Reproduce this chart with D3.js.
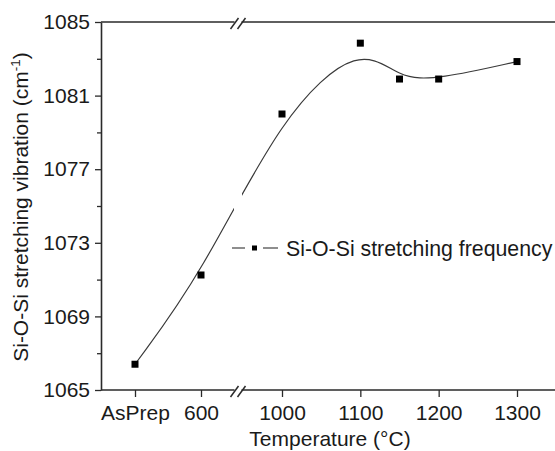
<!DOCTYPE html>
<html><head><meta charset="utf-8">
<script src="https://cdn.jsdelivr.net/npm/d3@7"></script>
<style>body{margin:0;background:#fff} text{font-family:"Liberation Sans",Arial,sans-serif;fill:#1a1a1a}</style>
</head><body><svg id="c" width="555" height="451"></svg>
<script>
// ---- data ----
const categories = ["AsPrep","600","1000","1100","1150","1200","1300"];
const tempPositions = [500, 600, 1000, 1100, 1150, 1200, 1300]; // AsPrep placed left of 600 on broken axis
const wavenumbers = [1066.4, 1071.25, 1080.0, 1083.85, 1081.9, 1081.9, 1082.85];
const xTickValues = [500, 600, 1000, 1100, 1200, 1300];
const xTickLabels = ["AsPrep","600","1000","1100","1200","1300"];
const yTicks = [1065,1069,1073,1077,1081,1085];
const yMinorTicks = [1067,1071,1075,1079,1083];
const legendLabel = "Si-O-Si stretching frequency";
const xTitle = "Temperature (°C)";

// ---- layout ----
const W = 555, H = 451;
const mLeft = 101, mTop = 22, mBottom = 390, mRight = 555;
const breakX = 238;
const svg = d3.select("#c");
const ink = "#2a2a2a";

const x = d3.scaleLinear().domain([500, 600, 1000, 1300]).range([135, 201, 282, 517]);
const y = d3.scaleLinear().domain([1065, 1085]).range([mBottom, mTop]);

const data = categories.map((c, i) => ({c, t: tempPositions[i], v: wavenumbers[i]}));

// clip to create gap in curve at break
const defs = svg.append("defs");
const cp = defs.append("clipPath").attr("id", "brk");
cp.append("rect").attr("x", 0).attr("y", 0).attr("width", breakX - 4).attr("height", H);
cp.append("rect").attr("x", breakX + 4).attr("y", 0).attr("width", W).attr("height", H);

// curve
const line = d3.line().x(d => x(d.t)).y(d => y(d.v)).curve(d3.curveBasis);
svg.append("path").datum(data).attr("d", line)
  .attr("fill", "none").attr("stroke", "#3a3a3a").attr("stroke-width", 1.2)
  .attr("clip-path", "url(#brk)");

// markers
svg.selectAll("rect.pt").data(data).join("rect").attr("class", "pt")
  .attr("x", d => x(d.t) - 3.5).attr("y", d => y(d.v) - 3.5)
  .attr("width", 7).attr("height", 7).attr("fill", "#000");

// y axis
const yAxis = d3.axisLeft(y).tickValues(yTicks).tickSize(6).tickSizeOuter(0).tickPadding(5)
  .tickFormat(d3.format("d"));
const gy = svg.append("g").attr("transform", `translate(${mLeft},0)`).call(yAxis);
gy.select(".domain").attr("stroke", ink).attr("stroke-width", 1.6);
gy.selectAll(".tick line").attr("stroke", ink).attr("stroke-width", 1.3);
gy.selectAll(".tick text").attr("font-size", 21).attr("fill", "#1a1a1a")
  .attr("font-family", '"Liberation Sans",Arial,sans-serif');
const gyMinor = svg.append("g").attr("transform", `translate(${mLeft},0)`)
  .call(d3.axisLeft(y).tickValues(yMinorTicks).tickSize(4).tickFormat(""));
gyMinor.select(".domain").remove();
gyMinor.selectAll(".tick line").attr("stroke", ink).attr("stroke-width", 1.3);

// x axis
const xAxis = d3.axisBottom(x).tickValues(xTickValues).tickSize(7).tickSizeOuter(0).tickPadding(8)
  .tickFormat((d, i) => xTickLabels[i]);
const gx = svg.append("g").attr("transform", `translate(0,${mBottom})`).call(xAxis);
gx.select(".domain").remove();
gx.selectAll(".tick line").attr("stroke", ink).attr("stroke-width", 1.3);
gx.selectAll(".tick text").attr("font-size", 21).attr("fill", "#1a1a1a")
  .attr("font-family", '"Liberation Sans",Arial,sans-serif');

// horizontal frame lines (bottom and top) with breaks
function hLine(yy) {
  const g = svg.append("g");
  g.append("line").attr("x1", mLeft).attr("x2", breakX - 3.5).attr("y1", yy).attr("y2", yy)
    .attr("stroke", ink).attr("stroke-width", 1.6);
  g.append("line").attr("x1", breakX + 3.5).attr("x2", mRight).attr("y1", yy).attr("y2", yy)
    .attr("stroke", ink).attr("stroke-width", 1.6);
  [breakX - 3.5, breakX + 3.5].forEach(cx => {
    g.append("line").attr("x1", cx - 4).attr("y1", yy + 7).attr("x2", cx + 4).attr("y2", yy - 4)
      .attr("stroke", ink).attr("stroke-width", 1.5);
  });
}
hLine(mBottom);
hLine(mTop);

// legend
const lg = svg.append("g").attr("transform", "translate(232,248)");
lg.append("line").attr("x1", 0).attr("x2", 13).attr("y1", 0).attr("y2", 0).attr("stroke", "#444").attr("stroke-width", 1.2);
lg.append("line").attr("x1", 31).attr("x2", 46).attr("y1", 0).attr("y2", 0).attr("stroke", "#444").attr("stroke-width", 1.2);
lg.append("rect").attr("x", 20).attr("y", -2.5).attr("width", 5).attr("height", 5).attr("fill", "#000");
lg.append("text").attr("x", 54).attr("y", 7.5).attr("font-size", 21.3).text(legendLabel);

// axis titles
svg.append("text").attr("x", 330).attr("y", 446).attr("text-anchor", "middle")
  .attr("font-size", 21).text(xTitle);
const yt = svg.append("text").attr("transform", "translate(28,207) rotate(-90)")
  .attr("text-anchor", "middle").attr("font-size", 21);
yt.append("tspan").text("Si-O-Si stretching vibration (cm");
yt.append("tspan").attr("font-size", 13.5).attr("dy", -8).text("-1");
yt.append("tspan").attr("dy", 8).text(")");
</script></body></html>
